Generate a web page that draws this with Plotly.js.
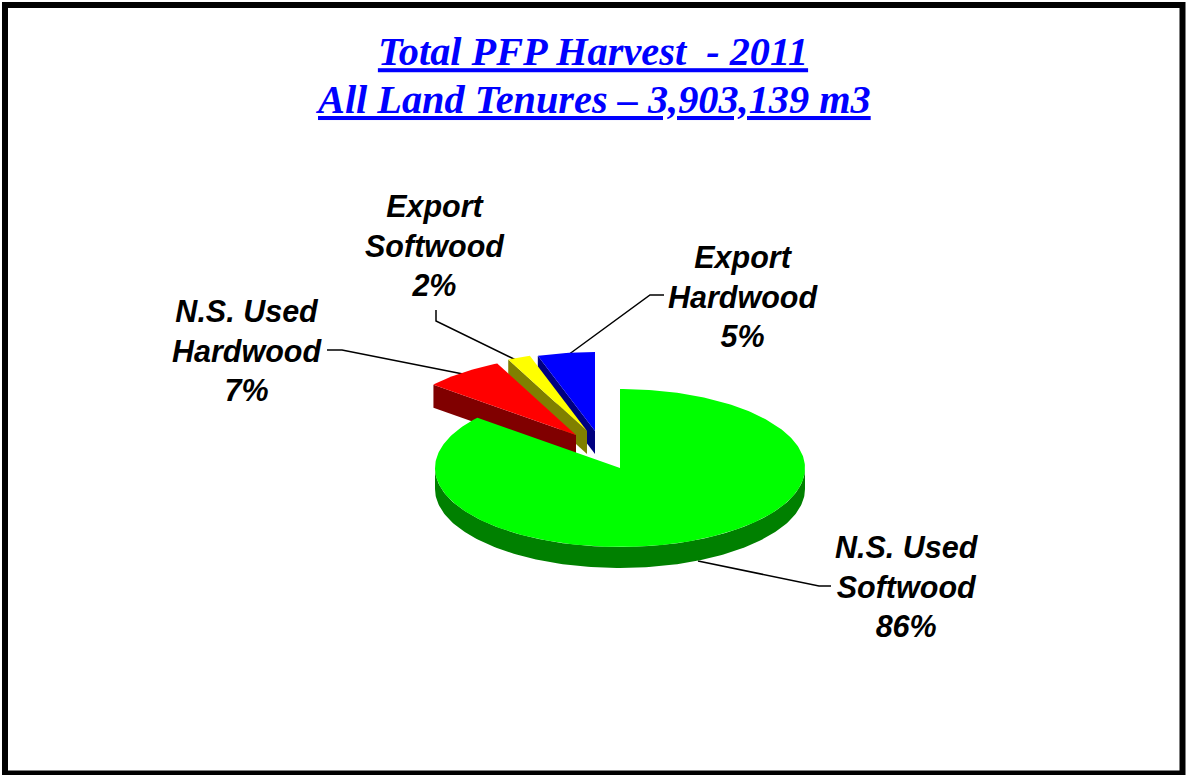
<!DOCTYPE html>
<html>
<head>
<meta charset="utf-8">
<script src="https://cdn.plot.ly/plotly-3.0.1.min.js"></script>
<style>html,body{margin:0;padding:0;background:#fff;overflow:hidden}#chart{width:1187px;height:775px}</style>
</head>
<body>
<div id="chart"></div>
<script>
// ---- data ----
const categories = ["N.S. Used Softwood", "N.S. Used Hardwood", "Export Softwood", "Export Hardwood"];
const labelLines = [["N.S. Used", "Softwood"], ["N.S. Used", "Hardwood"], ["Export", "Softwood"], ["Export", "Hardwood"]];
const shares = [86, 7, 2, 5];
const titleLines = ["Total PFP Harvest\u00a0\u00a0- 2011", "All Land Tenures \u2013 3,903,139 m3"];

// ---- styles ----
const topColors = ["#00ff00", "#ff0000", "#ffff00", "#0000ff"];
const wallColors = ["#008000", "#800000", "#808000", "#000080"];

// ---- oblique projection of the pie, in axis units (1 unit = 1 px) ----
const RX = 185, RY = 79;
const apexX = [620, 576, 587, 595];
const apexY = [468, 435, 431, 431];
const depth = [21, 23, 23, 23];
const labelX = [907, 247, 435, 743];
const labelY = [586, 350, 245, 296];
const leaderX = [[831, 819, 698], [327, 342, 463], [436, 436, 520], [664, 650, 568]];
const leaderY = [[586, 586, 561], [350, 350, 374], [310, 321, 362], [295, 295, 355]];

function rim(i, deg) {
  const a = deg * Math.PI / 180;
  return [apexX[i] + RX * Math.sin(a), apexY[i] - RY * Math.cos(a)];
}

let cum = 0;
const startDeg = shares.map(v => { const s = cum; cum += v * 3.6; return s; });
const sweepDeg = shares.map(v => v * 3.6);

function topFace(i) {
  const xs = [apexX[i]], ys = [apexY[i]];
  const n = Math.max(8, Math.round(sweepDeg[i]));
  for (let k = 0; k <= n; k++) {
    const p = rim(i, startDeg[i] + sweepDeg[i] * k / n);
    xs.push(p[0]); ys.push(p[1]);
  }
  xs.push(apexX[i]); ys.push(apexY[i]);
  return [xs, ys];
}

function wall(i) {
  const xs = [], ys = [];
  if (i === 0) { // curved front rim of the large slice
    const top = [];
    for (let d = 90; d <= 270; d += 1) top.push(rim(0, d));
    top.forEach(p => { xs.push(p[0]); ys.push(p[1]); });
    top.slice().reverse().forEach(p => { xs.push(p[0]); ys.push(p[1] + depth[0]); });
  } else { // flat cut face along the slice's leading edge
    const p = rim(i, startDeg[i]);
    xs.push(p[0], apexX[i], apexX[i], p[0], p[0]);
    ys.push(p[1], apexY[i], apexY[i] + depth[i], p[1] + depth[i], p[1]);
  }
  xs.push(xs[0]); ys.push(ys[0]);
  return [xs, ys];
}

function poly(xy, color, name) {
  return {
    type: "scatter", mode: "lines", x: xy[0], y: xy[1],
    fill: "toself", fillcolor: color,
    line: { width: 0, color: color },
    name: name, hoverinfo: "name", showlegend: false
  };
}

const traces = [];
// leaders go under the slices
categories.forEach((c, i) => traces.push({
  type: "scatter", mode: "lines", x: leaderX[i], y: leaderY[i],
  line: { color: "#000", width: 1.5 }, hoverinfo: "skip", showlegend: false
}));
// painter's order: back slices first
[3, 2, 1, 0].forEach(i => {
  const nm = categories[i] + " " + shares[i] + "%";
  traces.push(poly(wall(i), wallColors[i], nm));
  traces.push(poly(topFace(i), topColors[i], nm));
});

const titleFont = { family: "Liberation Serif", size: 40.3, color: "#0000ff" };
const styled = t => "<b><i><u>" + t + "</u></i></b>";

const annotations = categories.map((c, i) => ({
  xref: "x", yref: "y", x: labelX[i], y: labelY[i],
  xanchor: "center", yanchor: "middle", align: "center", showarrow: false,
  text: labelLines[i].concat([shares[i] + "%"]).map(t => "<b><i>" + t + "</i></b>").join("<br>"),
  font: { family: "Liberation Sans", size: 30.5, color: "#000" }
}));
annotations.push({
  xref: "x", yref: "y", x: 592.5, y: 99.5, xanchor: "center", yanchor: "middle",
  showarrow: false, text: styled(titleLines[1]), font: titleFont
});

const layout = {
  width: 1187, height: 775,
  margin: { l: 0, r: 0, t: 0, b: 0 },
  paper_bgcolor: "#fff", plot_bgcolor: "#fff",
  showlegend: false,
  title: {
    text: styled(titleLines[0]),
    x: 593 / 1187, xref: "paper", xanchor: "center",
    y: 1 - 37 / 775, yref: "container", yanchor: "top",
    font: titleFont
  },
  xaxis: { range: [0, 1187], visible: false, fixedrange: true },
  yaxis: { range: [775, 0], visible: false, fixedrange: true },
  shapes: [{
    type: "rect", xref: "x", yref: "y", x0: 5, x1: 1182.5, y0: 5, y1: 773.5,
    line: { color: "#000", width: 6 }, fillcolor: "rgba(0,0,0,0)", layer: "above"
  }],
  annotations: annotations
};

Plotly.newPlot("chart", traces, layout, { displayModeBar: false });
</script>
</body>
</html>
